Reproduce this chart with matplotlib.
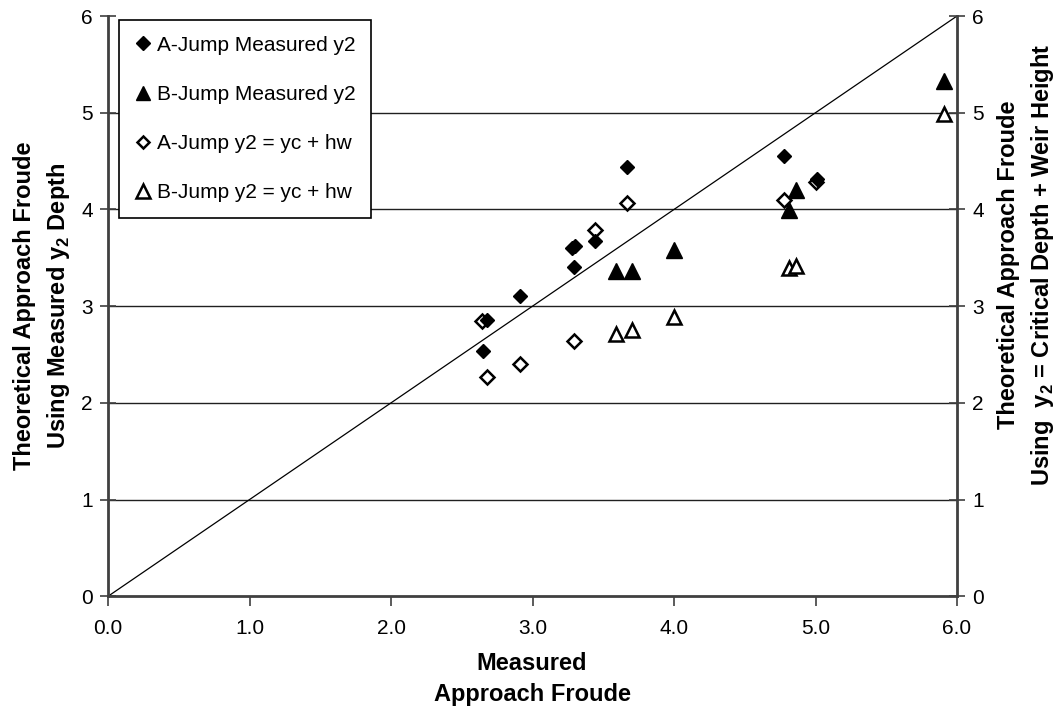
import matplotlib
matplotlib.use("Agg")
import matplotlib.pyplot as plt
from matplotlib.lines import Line2D

plt.rcParams["font.family"] = ["Liberation Sans", "DejaVu Sans"]
plt.rcParams["mathtext.fontset"] = "custom"
plt.rcParams["mathtext.rm"] = "Liberation Sans"
plt.rcParams["mathtext.bf"] = "Liberation Sans:bold"

# ── Data ──────────────────────────────────────────────────────────────────────
a_meas_x = [2.65, 2.68, 2.91, 3.28, 3.30, 3.29, 3.44, 3.67, 4.78, 5.01]
a_meas_y = [2.54, 2.86, 3.10, 3.60, 3.62, 3.40, 3.67, 4.44, 4.55, 4.31]

b_meas_x = [3.59, 3.70, 4.00, 4.81, 4.86, 5.91]
b_meas_y = [3.36, 3.36, 3.58, 3.99, 4.20, 5.33]

a_calc_x = [2.64, 2.68, 2.91, 3.29, 3.44, 3.67, 4.78, 5.00]
a_calc_y = [2.85, 2.27, 2.40, 2.64, 3.79, 4.07, 4.10, 4.28]

b_calc_x = [3.59, 3.70, 4.00, 4.81, 4.86, 5.91]
b_calc_y = [2.71, 2.75, 2.89, 3.39, 3.42, 4.99]

labels = ["A-Jump Measured y2", "B-Jump Measured y2",
          "A-Jump y2 = yc + hw", "B-Jump y2 = yc + hw"]
x_ticks = [0.0, 1.0, 2.0, 3.0, 4.0, 5.0, 6.0]
y_ticks = [0, 1, 2, 3, 4, 5, 6]

# ── Figure ────────────────────────────────────────────────────────────────────
fig = plt.figure(figsize=(10.63, 7.15), dpi=100)
ax = fig.add_axes([0.1016, 0.166, 0.7987, 0.8116])

spine_c = "#404040"
grid_c = "#202020"

for yv in y_ticks[1:-1]:
    ax.axhline(yv, color=grid_c, lw=1.0, zorder=1)

# 1:1 line
ax.plot([x_ticks[0], x_ticks[-1]], [y_ticks[0], y_ticks[-1]],
        color="black", lw=0.9, zorder=2)

ax.plot(a_meas_x, a_meas_y, ls="none", marker="D", ms=7.5,
        mfc="black", mec="black", zorder=4)
ax.plot(b_meas_x, b_meas_y, ls="none", marker="^", ms=11,
        mfc="black", mec="black", zorder=4)
ax.plot(a_calc_x, a_calc_y, ls="none", marker="D", ms=7.0,
        mfc="white", mec="black", mew=1.8, zorder=3)
ax.plot(b_calc_x, b_calc_y, ls="none", marker="^", ms=10.5,
        mfc="white", mec="black", mew=1.8, zorder=3)

ax.set_xlim(x_ticks[0], x_ticks[-1])
ax.set_ylim(y_ticks[0], y_ticks[-1])
ax.set_xticks(x_ticks)
ax.set_xticklabels([f"{v:.1f}" for v in x_ticks])
ax.set_yticks(y_ticks)
ax.set_yticklabels([str(v) for v in y_ticks])
ax.tick_params(axis="x", direction="out", length=7, width=1.2,
               color=spine_c, labelsize=15, pad=9)
ax.tick_params(axis="y", direction="inout", length=12, width=1.2,
               color=spine_c, labelsize=15, pad=5)

ax.spines["top"].set_visible(False)
ax.spines["right"].set_visible(False)
for s in ("left", "bottom"):
    ax.spines[s].set_color(spine_c)
    ax.spines[s].set_linewidth(2.0)

ax2 = ax.twinx()
ax2.set_ylim(y_ticks[0], y_ticks[-1])
ax2.set_yticks(y_ticks)
ax2.set_yticklabels([str(v) for v in y_ticks])
ax2.tick_params(axis="y", direction="inout", length=12, width=1.2,
                color=spine_c, labelsize=15, pad=5)
for s in ("top", "left", "bottom"):
    ax2.spines[s].set_visible(False)
ax2.spines["right"].set_color(spine_c)
ax2.spines["right"].set_linewidth(2.0)

# axis titles placed like the original (free-floating Excel titles)
title_kw = dict(fontsize=17, fontweight="bold", ha="center", va="center",
                multialignment="center", linespacing=1.45)
fig.text(532 / 1063, 1 - 679 / 715, "Measured\nApproach Froude", **title_kw)
fig.text(43 / 1063, 1 - 306 / 715,
         "Theoretical Approach Froude\nUsing Measured y$_\\mathbf{2}$ Depth",
         rotation=90, **title_kw)
fig.text(1026 / 1063, 1 - 265 / 715,
         "Theoretical Approach Froude\nUsing  y$_\\mathbf{2}$ = Critical Depth + Weir Height",
         rotation=90, **title_kw)

# ── Legend ────────────────────────────────────────────────────────────────────
handles = [
    Line2D([], [], ls="none", marker="D", ms=7, mfc="black", mec="black"),
    Line2D([], [], ls="none", marker="^", ms=10, mfc="black", mec="black"),
    Line2D([], [], ls="none", marker="D", ms=6.5, mfc="white", mec="black", mew=1.8),
    Line2D([], [], ls="none", marker="^", ms=9.5, mfc="white", mec="black", mew=1.8),
]
leg = ax.legend(handles, labels, loc="upper left",
                bbox_to_anchor=(0.013, 0.993),
                fontsize=15, frameon=True, fancybox=False, framealpha=1,
                edgecolor="black", borderpad=0.75, labelspacing=1.45,
                handlelength=0.8, handletextpad=0.25, borderaxespad=0)
leg.get_frame().set_linewidth(1.2)
leg.set_zorder(6)

fig.savefig("out.png", dpi=100)
